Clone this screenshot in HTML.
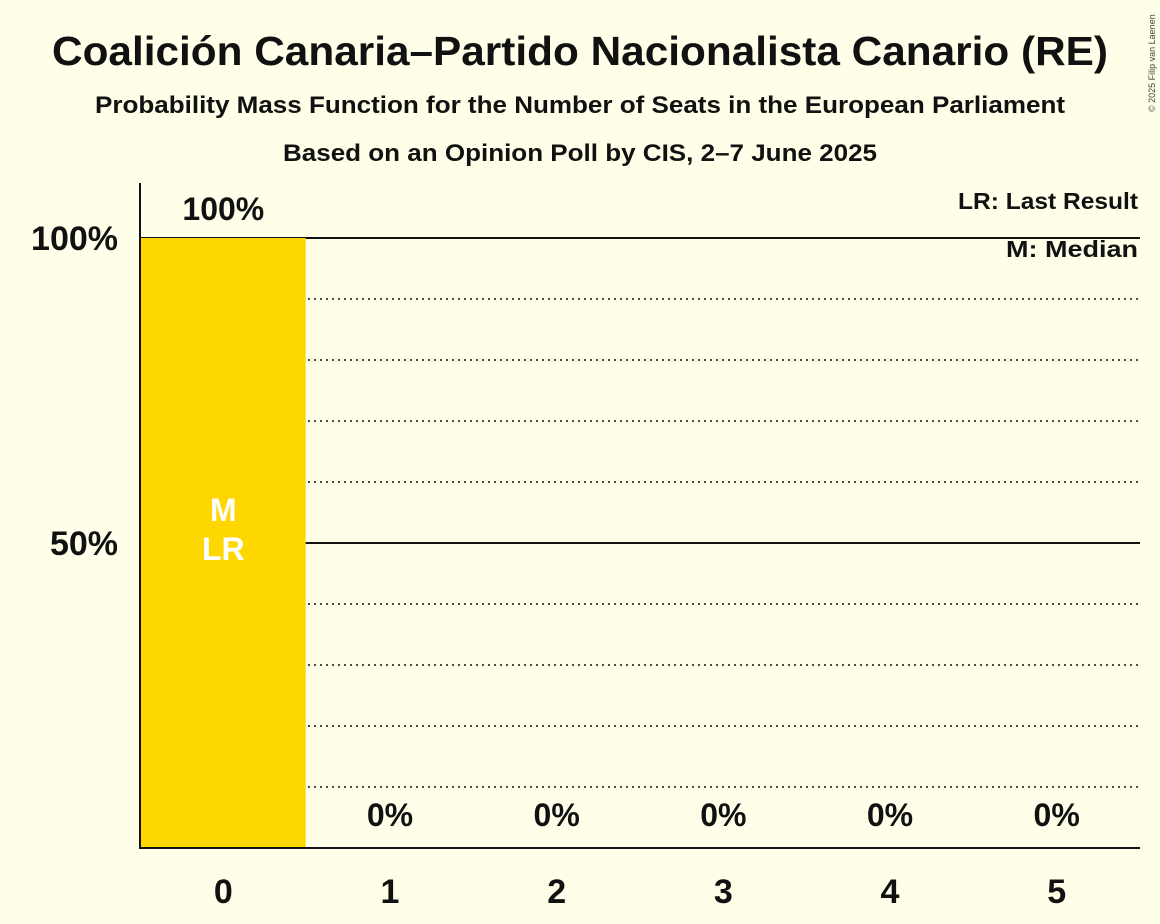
<!DOCTYPE html>
<html><head><meta charset="utf-8"><style>
body{margin:0;background:#FFFEE8;}
svg{display:block;font-family:"Liberation Sans",sans-serif;}
</style></head><body>
<svg id="chart" width="1160" height="924">
<rect width="1160" height="924" fill="#FFFEE8"/>
<text x="580" y="65" text-anchor="middle" font-size="41" font-weight="bold" fill="#111" textLength="1056" lengthAdjust="spacingAndGlyphs">Coalición Canaria–Partido Nacionalista Canario (RE)</text>
<text x="580" y="113" text-anchor="middle" font-size="24" font-weight="bold" fill="#111" textLength="970" lengthAdjust="spacingAndGlyphs">Probability Mass Function for the Number of Seats in the European Parliament</text>
<text x="580" y="161" text-anchor="middle" font-size="24" font-weight="bold" fill="#111" textLength="594" lengthAdjust="spacingAndGlyphs">Based on an Opinion Poll by CIS, 2–7 June 2025</text>
<text x="1155" y="112" font-size="9" fill="#444" transform="rotate(-90 1155 112)">© 2025 Filip van Laenen</text>
<text x="1138" y="209" text-anchor="end" font-size="23" font-weight="bold" fill="#111" textLength="180" lengthAdjust="spacingAndGlyphs">LR: Last Result</text>
<text x="1138" y="257" text-anchor="end" font-size="23" font-weight="bold" fill="#111" textLength="132" lengthAdjust="spacingAndGlyphs">M: Median</text>
<g id="grid"></g><g id="bars"></g><g id="labels"></g>
<line x1="140" y1="183" x2="140" y2="848" stroke="#111" stroke-width="2"/>
<line x1="139" y1="848" x2="1140" y2="848" stroke="#111" stroke-width="2"/>
</svg>
<script>
const seats=[0,1,2,3,4,5];
const probs=[100,0,0,0,0,0];
const valueLabels=["100%","0%","0%","0%","0%","0%"];
const yTicks=[50,100];
const yTickLabels=["50%","100%"];
const medianSeat=0, lastResultSeat=0;
const NS="http://www.w3.org/2000/svg";
const x0=140,x1=1140,yBase=848,yTop=238;
const bw=(x1-x0)/seats.length;
const xs=i=>x0+i*bw;
const ys=v=>yBase-(yBase-yTop)*v/100;
function mk(tag,attrs,parent,text){const e=document.createElementNS(NS,tag);for(const k in attrs)e.setAttribute(k,attrs[k]);if(text!==undefined)e.textContent=text;document.getElementById(parent).appendChild(e);return e;}
for(let v=10;v<=100;v+=10){
 const solid=v%50===0;
 const l=mk("line",{x1:x0,x2:x1,y1:ys(v),y2:ys(v),stroke:"#111","stroke-width":solid?2:1.5,"stroke-dasharray":solid?"none":"2,4"},"grid");
 
 
}
yTicks.forEach((t,i)=>{
 const e=mk("text",{x:118,y:ys(t)+12,"text-anchor":"end","font-size":34,"font-weight":"bold",fill:"#111"},"labels",yTickLabels[i]);
 
 
});
seats.forEach((s,i)=>{
 const cx=xs(i)+bw/2;
 if(probs[i]>0){
  const r=mk("rect",{x:xs(i)+1,y:ys(probs[i]),width:bw-2,height:yBase-ys(probs[i]),fill:"#FFD700"},"bars");
  
  
 }
 const vy=probs[i]>0?ys(probs[i])-18:yBase-22;
 const vl=mk("text",{x:cx,y:vy,"text-anchor":"middle","font-size":32,"font-weight":"bold",fill:"#111"},"labels",valueLabels[i]);
 
 
 const xl=mk("text",{x:cx,y:903,"text-anchor":"middle","font-size":34,"font-weight":"bold",fill:"#111"},"labels",String(s));
 
 
});
const mx=xs(medianSeat)+bw/2;
const m=mk("text",{x:mx,y:ys(50)-22,"text-anchor":"middle","font-size":32,"font-weight":"bold",fill:"#fff"},"labels","M");


const lr=mk("text",{x:xs(lastResultSeat)+bw/2,y:ys(50)+17,"text-anchor":"middle","font-size":32,"font-weight":"bold",fill:"#fff"},"labels","LR");


</script>
</body></html>
